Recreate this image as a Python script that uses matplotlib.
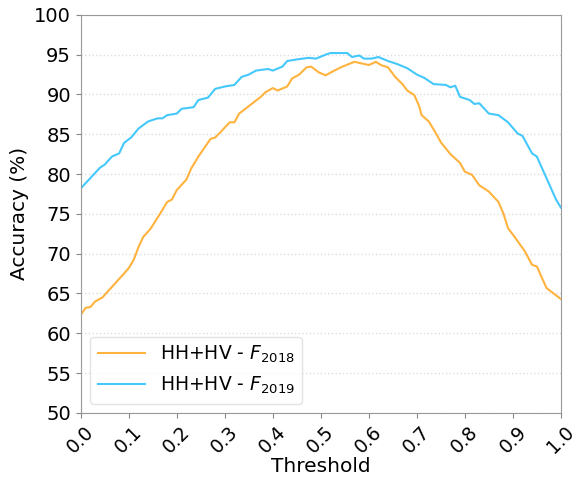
import numpy as np
import matplotlib.pyplot as plt

# Threshold / accuracy readings, HH+HV F2018
t_2018 = [0.00, 0.01, 0.02, 0.03, 0.045, 0.06, 0.075, 0.09, 0.10, 0.11, 0.12, 0.13,
          0.145, 0.165, 0.18, 0.19, 0.20, 0.22, 0.23, 0.245, 0.27, 0.28, 0.29, 0.31,
          0.32, 0.33, 0.345, 0.36, 0.375, 0.385, 0.40, 0.41, 0.43, 0.44, 0.455, 0.47,
          0.48, 0.495, 0.51, 0.525, 0.545, 0.57, 0.585, 0.60, 0.615, 0.625, 0.64,
          0.655, 0.67, 0.68, 0.695, 0.705, 0.71, 0.725, 0.74, 0.75, 0.77, 0.79, 0.80,
          0.815, 0.83, 0.85, 0.87, 0.88, 0.89, 0.905, 0.925, 0.94, 0.95, 0.97, 0.985, 1.00]
acc_2018 = [62.3, 63.2, 63.3, 64.0, 64.5, 65.5, 66.5, 67.5, 68.2, 69.2, 70.8, 72.1,
            73.1, 75.0, 76.5, 76.8, 78.0, 79.3, 80.7, 82.2, 84.4, 84.6, 85.2, 86.5,
            86.5, 87.6, 88.3, 89.0, 89.7, 90.3, 90.8, 90.5, 91.0, 92.0, 92.5, 93.4,
            93.5, 92.8, 92.4, 92.9, 93.5, 94.1, 93.9, 93.7, 94.1, 93.7, 93.4,
            92.2, 91.3, 90.5, 89.9, 88.5, 87.4, 86.6, 85.1, 84.0, 82.5, 81.4, 80.3,
            79.9, 78.6, 77.8, 76.5, 75.1, 73.2, 72.0, 70.3, 68.6, 68.4, 65.7, 65.0, 64.3]

# HH+HV F2019
t_2019 = [0.00, 0.02, 0.04, 0.05, 0.065, 0.08, 0.09, 0.105, 0.12, 0.14, 0.16, 0.17,
          0.18, 0.20, 0.21, 0.235, 0.245, 0.265, 0.28, 0.30, 0.32, 0.335, 0.35, 0.365,
          0.39, 0.40, 0.42, 0.43, 0.45, 0.475, 0.49, 0.51, 0.52, 0.555, 0.565, 0.58,
          0.59, 0.605, 0.62, 0.64, 0.66, 0.68, 0.70, 0.715, 0.735, 0.76, 0.77, 0.78,
          0.79, 0.81, 0.82, 0.83, 0.85, 0.87, 0.89, 0.91, 0.92, 0.94, 0.95, 0.97, 0.99, 1.00]
acc_2019 = [78.2, 79.5, 80.8, 81.2, 82.2, 82.6, 83.9, 84.6, 85.7, 86.6, 87.0, 87.0,
            87.4, 87.6, 88.2, 88.4, 89.3, 89.6, 90.7, 91.0, 91.2, 92.2, 92.5, 93.0,
            93.2, 93.0, 93.5, 94.2, 94.4, 94.6, 94.5, 95.0, 95.2, 95.2, 94.7, 94.9,
            94.5, 94.5, 94.7, 94.2, 93.8, 93.3, 92.5, 92.1, 91.3, 91.2, 90.9, 91.1,
            89.7, 89.3, 88.8, 88.9, 87.6, 87.4, 86.5, 85.1, 84.8, 82.6, 82.2, 79.5, 76.8, 75.8]

fig = plt.figure(figsize=(5.77, 4.79), dpi=100)
ax = fig.add_axes([0.140, 0.138, 0.832, 0.831])

ax.plot(t_2018, acc_2018, color='#ffb33f', linewidth=1.5, label=r'HH+HV - $F_{2018}$')
ax.plot(t_2019, acc_2019, color='#45c8fb', linewidth=1.5, label=r'HH+HV - $F_{2019}$')

ax.set_xlim(0, 1)
ax.set_ylim(50, 100)
ax.set_xticks(np.arange(0, 1.01, 0.1))
ax.set_xticklabels([f"{v:.1f}" for v in np.arange(0, 1.01, 0.1)], rotation=45)
ax.set_yticks(np.arange(50, 101, 5))
ax.tick_params(axis='y', labelsize=14, color='#888888')
ax.tick_params(axis='x', labelsize=13.5, color='#888888')
ax.yaxis.grid(True, color='#dddddd', linestyle=':', linewidth=1)
ax.set_axisbelow(True)

for s in ax.spines.values():
    s.set_color('#999999')

ax.set_xlabel('Threshold', fontsize=14.5, labelpad=0)
ax.set_ylabel('Accuracy (%)', fontsize=14.5)

ax.legend(loc='lower left', fontsize=13.5, edgecolor='#dddddd', handlelength=2.5)

fig.savefig('out.png', dpi=100)
